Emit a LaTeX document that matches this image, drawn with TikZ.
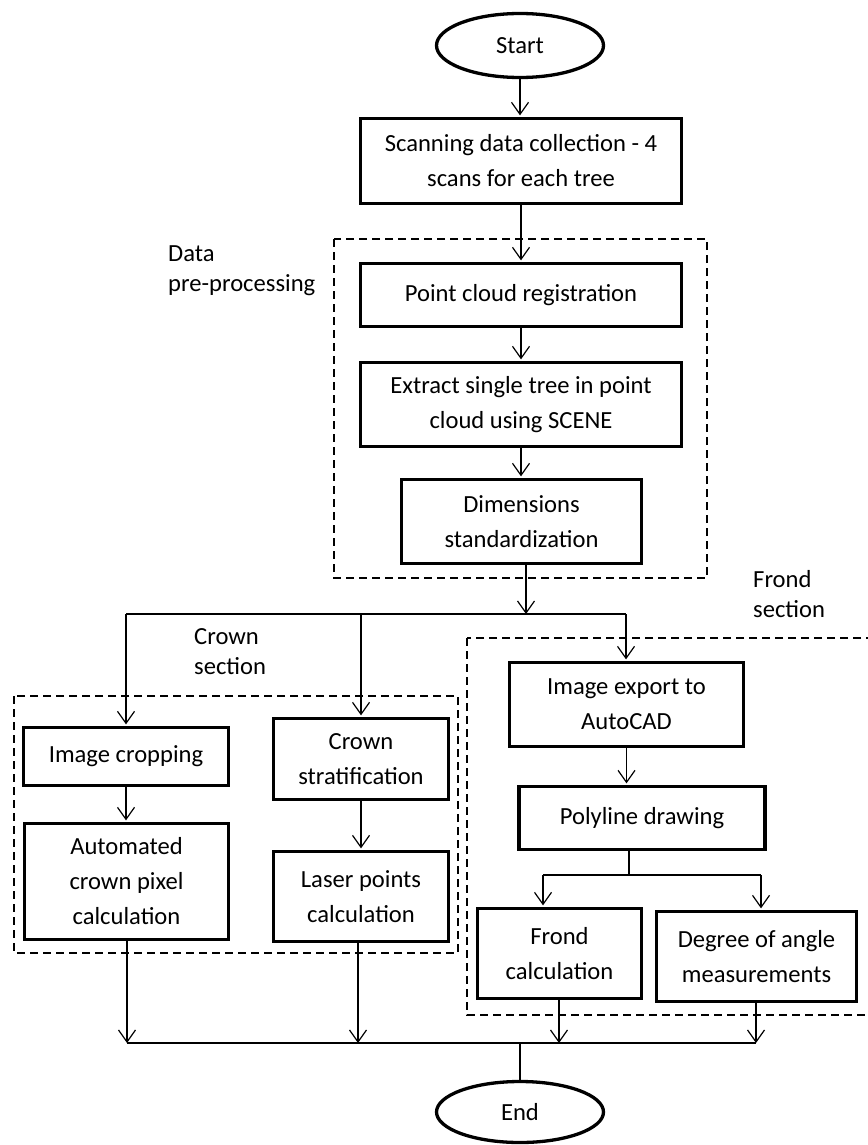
\documentclass[tikz,border=0pt]{standalone}
\usepackage{fontspec}
\setmainfont{Carlito}
\usetikzlibrary{arrows.meta,shapes.geometric}
\begin{document}
\begin{tikzpicture}[x=1pt,y=-1pt,
  box/.style={draw,line width=3.3pt,align=center,inner sep=0pt,font=\fontsize{24.6}{35}\selectfont},
  term/.style={draw,ellipse,line width=3.3pt,inner sep=0pt,font=\fontsize{24.6}{29}\selectfont},
  lab/.style={align=left,anchor=west,inner sep=0pt,font=\fontsize{24.6}{30}\selectfont},
  grp/.style={draw,dash pattern=on 8pt off 5pt,line width=1.5pt},
  conn/.style={line width=1.2pt},
  arr/.style={conn,-{Straight Barb[length=12pt,width=17pt]}},
  arrb/.style={arr,shorten >=1.5pt}]
\useasboundingbox (0,0) rectangle (867,1145);

% group frames
\draw[grp] (334,239) rectangle (707,578);
\draw[grp] (14,696) rectangle (458,953);
\draw[grp] (467,638) rectangle (872,1015);

% labels
\node[lab] (ldata) at (168,271) {Data\\pre-processing};
\node[lab] (lcrown) at (194,652) {Crown\\section};
\node[lab] (lfrond) at (753,594) {Frond\\section};

% nodes
\node[term,minimum width=167,minimum height=64] (start) at (520,45.5) {Start};
\node[box,minimum width=321,minimum height=85] (scan) at (521,161) {Scanning data collection - 4\\scans for each tree};
\node[box,minimum width=321,minimum height=63] (pcr) at (521,295) {Point cloud registration};
\node[box,minimum width=321,minimum height=84] (ext) at (521,404.5) {Extract single tree in point\\cloud using SCENE};
\node[box,minimum width=240,minimum height=84] (dim) at (521.5,521.5) {Dimensions\\standardization};
\node[box,minimum width=205,minimum height=58] (imgcrop) at (126,756.5) {Image cropping};
\node[box,minimum width=204,minimum height=116] (auto) at (126.5,881.5) {Automated\\crown pixel\\calculation};
\node[box,minimum width=175,minimum height=81] (cstrat) at (361,759) {Crown\\stratification};
\node[box,minimum width=175,minimum height=90] (laser) at (361,896.5) {Laser points\\calculation};
\node[box,minimum width=234,minimum height=84] (imgexp) at (626.5,704.5) {Image export to\\AutoCAD};
\node[box,minimum width=246,minimum height=63] (poly) at (642,818) {Polyline drawing};
\node[box,minimum width=164,minimum height=90] (frond) at (559.5,953.5) {Frond\\calculation};
\node[box,minimum width=200,minimum height=90] (degree) at (756.5,956.5) {Degree of angle\\measurements};
\node[term,minimum width=167,minimum height=61] (end) at (520,1112) {End};

% junction points
\coordinate (j0) at (526,614);
\coordinate (jl) at (126,614);
\coordinate (jm) at (361,614);
\coordinate (jr) at (626,614);
\coordinate (p0) at (629,875);
\coordinate (pl) at (543,875);
\coordinate (pr) at (761,875);
\coordinate (b1) at (127,1043);
\coordinate (b2) at (358,1043);
\coordinate (b3) at (559,1043);
\coordinate (b4) at (756,1043);
\coordinate (be) at (520,1043);

% connectors
\draw[arrb] (start.south) -- (start.south |- scan.north);
\draw[arrb] (scan.south) -- (pcr.north);
\draw[arrb] (pcr.south) -- (ext.north);
\draw[arrb] (ext.south) -- (ext.south |- dim.north);
\draw[arr] (j0 |- dim.south) -- (j0);
\draw[conn] (jl) -- (jr);
\draw[arrb] (jl) -- (jl |- imgcrop.north);
\draw[arrb] (jm) -- (jm |- cstrat.north);
\draw[arrb] (jr) -- (jr |- imgexp.north);
\draw[arrb] (imgcrop.south) -- (imgcrop.south |- auto.north);
\draw[arrb] (cstrat.south) -- (laser.north);
\draw[arrb] (imgexp.south) -- (imgexp.south |- poly.north);
\draw[conn] (p0 |- poly.south) -- (p0);
\draw[conn] (pl) -- (pr);
\draw[arrb] (pl) -- (pl |- frond.north);
\draw[arrb] (pr) -- (pr |- degree.north);
\draw[arr] (b1 |- auto.south) -- (b1);
\draw[arr] (b2 |- laser.south) -- (b2);
\draw[arr] (b3 |- frond.south) -- (b3);
\draw[arr] (b4 |- degree.south) -- (b4);
\draw[conn] (b1) -- (b4);
\draw[conn] (be) -- (end.north);
\end{tikzpicture}
\end{document}
